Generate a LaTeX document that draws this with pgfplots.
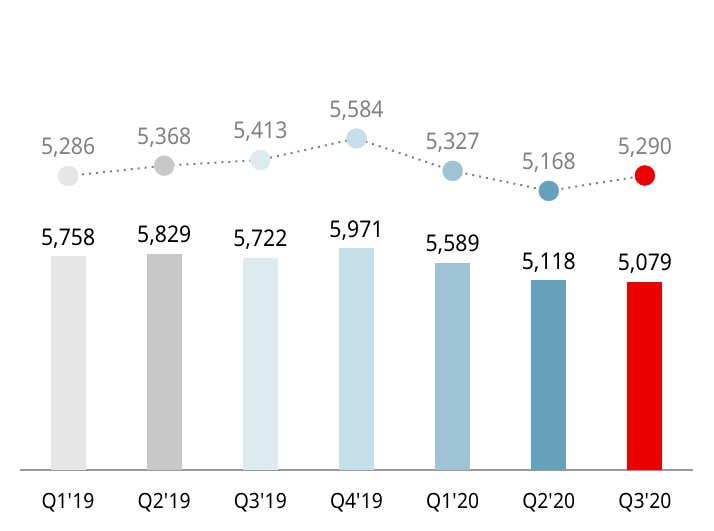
\documentclass[border=0pt]{standalone}
\usepackage{pgfplots}
\pgfplotsset{compat=1.18}
\usepackage{fontspec}
\setmainfont[FakeStretch=0.92]{Noto Sans}
\definecolor{c1}{HTML}{E6E6E6}
\definecolor{c2}{HTML}{C8C8C8}
\definecolor{c3}{HTML}{DCEBF0}
\definecolor{c4}{HTML}{C5DFE8}
\definecolor{c5}{HTML}{9DC3D4}
\definecolor{c6}{HTML}{65A1BB}
\definecolor{c7}{HTML}{EC0000}
\definecolor{lblgray}{HTML}{808080}
\definecolor{axgray}{HTML}{999999}
\begin{document}
\begin{tikzpicture}
\path[use as bounding box] (0,0) rectangle (714pt,530pt);
\pgfplotsset{
  base/.style={
    at={(20pt,60pt)}, anchor=south west,
    width=673pt, height=450pt, scale only axis,
    xmin=-0.5, xmax=6.5, clip=false,
    /pgf/number format/assume math mode=true,
    /pgf/number format/1000 sep={,},
  },
  barplot/.style={ybar, bar width=35pt, bar shift=0pt, draw=none, fill=#1,
    nodes near coords, nodes near coords style={anchor=base, yshift=11pt, black, font=\fontsize{23}{27}\selectfont, inner sep=0pt}},
  dotplot/.style={color=#1, only marks, mark=*, mark size=10pt, mark options={draw=#1, fill=#1},
    nodes near coords, nodes near coords style={anchor=base, yshift=21pt, text=lblgray, font=\fontsize{23}{27}\selectfont, inner sep=0pt}},
}
\begin{axis}[base,
  ymin=0, ymax=12129,
  axis y line=none, axis x line*=bottom,
  x axis line style={axgray, line width=1.8pt},
  xtick={0,...,6},
  xticklabels={Q1\textquotesingle19,Q2\textquotesingle19,Q3\textquotesingle19,Q4\textquotesingle19,Q1\textquotesingle20,Q2\textquotesingle20,Q3\textquotesingle20},
  major tick length=0pt,
  xticklabel style={anchor=base, yshift=-38pt, inner sep=0pt, font=\fontsize{21}{25}\selectfont},
]
\addplot[barplot=c1] coordinates {(0,5758)};
\addplot[barplot=c2] coordinates {(1,5829)};
\addplot[barplot=c3] coordinates {(2,5722)};
\addplot[barplot=c4] coordinates {(3,5971)};
\addplot[barplot=c5] coordinates {(4,5589)};
\addplot[barplot=c6] coordinates {(5,5118)};
\addplot[barplot=c7] coordinates {(6,5079)};
\end{axis}
\begin{axis}[base, ymin=2953, ymax=6524, hide axis]
\addplot[lblgray, line width=2pt, dash pattern=on 2pt off 5pt, no marks] coordinates {
(0,5286) (1,5368) (2,5413) (3,5584) (4,5327) (5,5168) (6,5290)};
\addplot[dotplot=c1] coordinates {(0,5286)};
\addplot[dotplot=c2] coordinates {(1,5368)};
\addplot[dotplot=c3] coordinates {(2,5413)};
\addplot[dotplot=c4] coordinates {(3,5584)};
\addplot[dotplot=c5] coordinates {(4,5327)};
\addplot[dotplot=c6] coordinates {(5,5168)};
\addplot[dotplot=c7] coordinates {(6,5290)};
\end{axis}
\end{tikzpicture}
\end{document}
